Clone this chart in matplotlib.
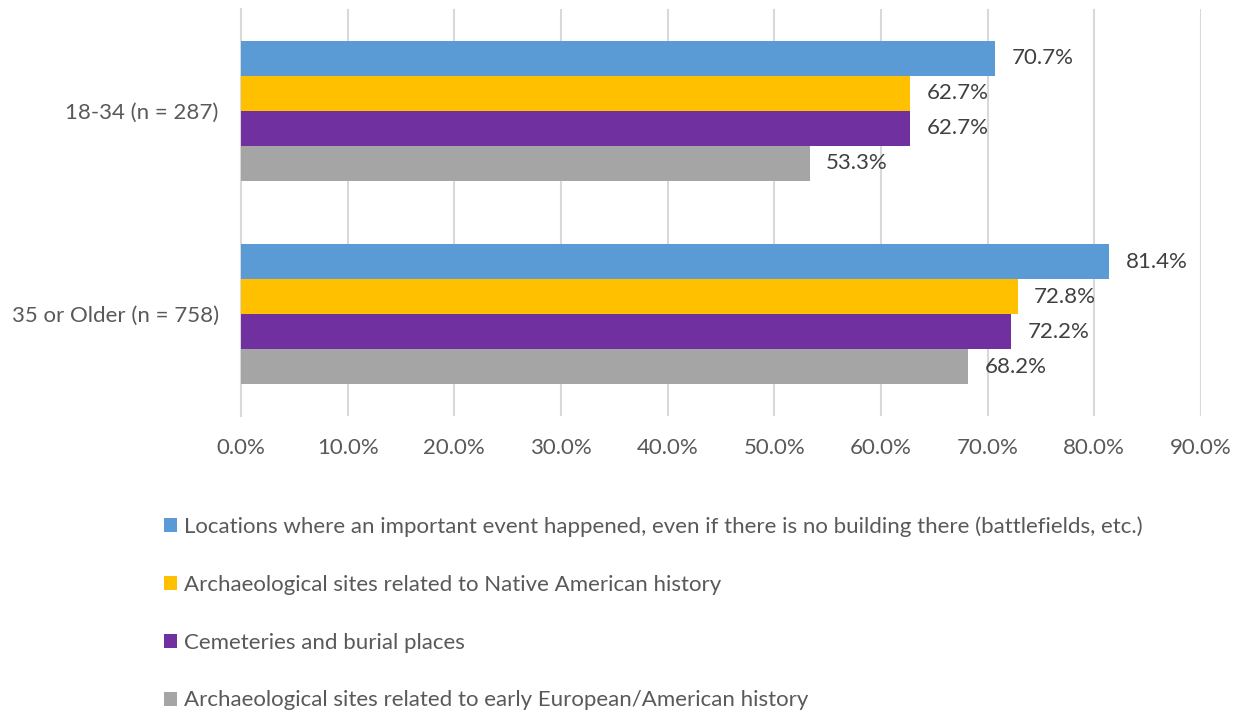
import numpy as np
import matplotlib as mpl
mpl.use('Agg')
import matplotlib.pyplot as plt
from matplotlib.patches import Patch

# ========== Data ==========
groups = ["18-34 (n = 287)", "35 or Older (n = 758)"]
series = [
    "Locations where an important event happened, even if there is no building there (battlefields, etc.)",
    "Archaeological sites related to Native American history",
    "Cemeteries and burial places",
    "Archaeological sites related to early European/American history",
]
locations = [70.7, 81.4]
native_sites = [62.7, 72.8]
cemeteries = [62.7, 72.2]
european_sites = [53.3, 68.2]
colors = ["#5B9BD5", "#FFC000", "#7030A0", "#A5A5A5"]
xticks = np.arange(0, 100, 10)

# ========== Plot ==========
plt.rcParams['font.family'] = ['Lato', 'DejaVu Sans']
FS = 16

fig = plt.figure(figsize=(12.39, 7.15), dpi=100)
ax = fig.add_axes([0.1945, 0.4182, 0.7748, 0.5692])

values = [locations, native_sites, cemeteries, european_sites]
bar_h = 0.1716
y = np.arange(len(groups))
for i, (vals, col) in enumerate(zip(values, colors)):
    pos = y + (i - 1.5) * bar_h
    ax.barh(pos, vals, height=bar_h, color=col, zorder=3)
    for p, v in zip(pos, vals):
        ax.annotate(f"{v:.1f}%", (v, p), xytext=(12, 0), textcoords="offset points",
                    va="center", ha="left", fontsize=FS, color="#404040")

ax.set_xlim(0, 90)
ax.set_ylim(1.5, -0.5)
ax.set_xticks(xticks)
ax.set_xticklabels([f"{t:.1f}%" for t in xticks], fontsize=FS, color="#595959")
ax.set_yticks(y)
ax.set_yticklabels(groups, fontsize=FS, color="#595959")
ax.tick_params(axis="x", length=0, pad=16)
ax.tick_params(axis="y", length=0, pad=16)
ax.grid(axis="x", color="#D9D9D9", linewidth=1.5, zorder=0)
for s in ["top", "right", "bottom"]:
    ax.spines[s].set_visible(False)
ax.spines["left"].set_color("#D9D9D9")
ax.spines["left"].set_linewidth(1.5)

handles = [Patch(facecolor=c) for c in colors]
leg = fig.legend(handles, series, loc="upper left", bbox_to_anchor=(0.125, 0.29),
                 frameon=False, fontsize=FS, handlelength=0.6, handleheight=0.6,
                 handletextpad=0.3, labelspacing=1.7, borderaxespad=0)
for t in leg.get_texts():
    t.set_color("#595959")

fig.savefig("out.png", dpi=100)
